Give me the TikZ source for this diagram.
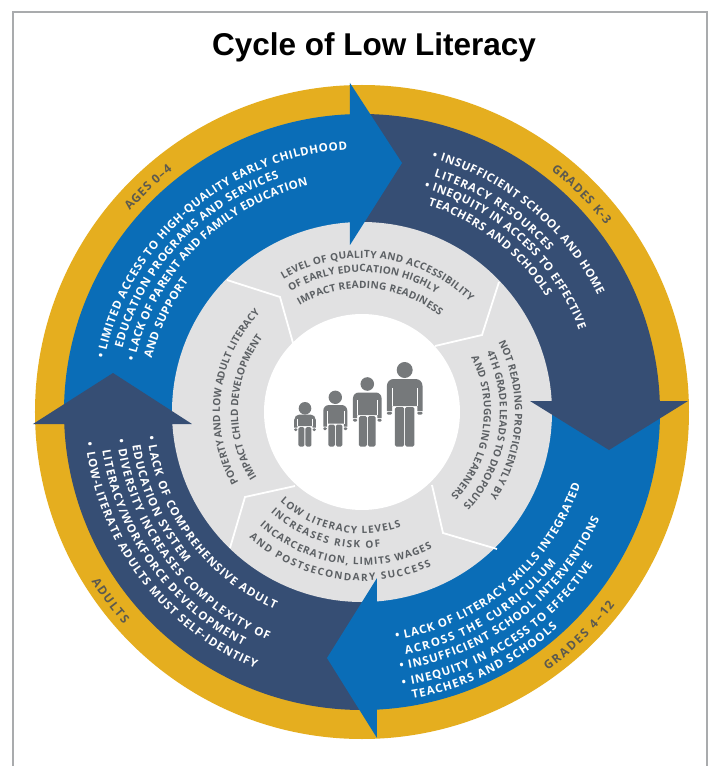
\documentclass[tikz,border=0pt]{standalone}
\usepackage{fontspec}
\usetikzlibrary{decorations.text}
\setmainfont{Liberation Sans}
\newfontfamily\labelfont{Open Sans}
\definecolor{cblue}{HTML}{0A6DB7}
\definecolor{cnavy}{HTML}{364E74}
\definecolor{cgold}{HTML}{E5AE1F}
\definecolor{cdisc}{HTML}{E1E1E2}
\definecolor{cperson}{HTML}{76797B}
\definecolor{cgtext}{HTML}{5C6064}
\definecolor{clabel}{HTML}{5D5A4E}
\definecolor{cframe}{HTML}{A9ABAD}
\newcommand\fwhite{\labelfont\bfseries\fontsize{11.5}{13}\selectfont\color{white}}
\newcommand\fgray{\labelfont\bfseries\fontsize{10.1}{12}\selectfont\color{cgtext}}
\newcommand\fgold{\labelfont\bfseries\fontsize{12}{13}\selectfont\color{clabel}}
\newcommand\arctext[5]{\path[decorate,decoration={text along path,text align={fit to path},text={|#4|#5}}] (#2:#1) arc[start angle=#2,end angle=#3,radius=#1];}
\newcommand\sector[3]{\fill[#1] (#2:298) arc[start angle=#2,end angle=#3,radius=298] -- (#3:189) arc[start angle=#3,end angle=#2,radius=189] -- cycle;}
% cx, head y, head r, half span, top, waist, hand bottom, foot, half leg
\newcommand\person[9]{%
  \pgfmathsetmacro\paw{0.29*#4}%
  \pgfmathsetmacro\pin{#4-\paw}%
  \pgfmathsetmacro\pcr{0.85*#3}%
  \pgfmathsetmacro\pwr{#7-3.4}%
  \fill[cperson] (#1,#2) circle (#3pt);
  \fill[cperson] (#1-#4,\pwr) [rounded corners=\pcr pt] -- (#1-#4,#5) -- (#1+#4,#5) [sharp corners] -- (#1+#4,\pwr) -- (#1+\pin,\pwr) -- (#1+\pin,#6) -- (#1-\pin,#6) -- (#1-\pin,\pwr) -- cycle;
  \fill[cperson,rounded corners=1.1pt] (#1-#4,\pwr+.7) rectangle (#1-\pin,#7);
  \fill[cperson,rounded corners=1.1pt] (#1+\pin,\pwr+.7) rectangle (#1+#4,#7);
  \draw[white,line width=.45pt] (#1-\pin,#5+0.35*#6-0.35*#5) -- (#1-\pin,#6) (#1+\pin,#5+0.35*#6-0.35*#5) -- (#1+\pin,#6);
  \fill[cperson,rounded corners=1.5pt] (#1-#9,#6+1) rectangle (#1-.5,#8);
  \fill[cperson,rounded corners=1.5pt] (#1+.5,#6+1) rectangle (#1+#9,#8);
}
\begin{document}
\begin{tikzpicture}[x=1pt,y=1pt,
  imgframe/.style={shift={(-362pt,412pt)},y=-1pt},
  rule/.style={draw=cframe,line width=1.3pt},
  divider/.style={draw=white,line width=1.8pt,line join=miter},
  title/.style={font=\bfseries\fontsize{31.5}{36}\selectfont,text=black,inner sep=0pt}]
\useasboundingbox (-362,412) rectangle (349,-354);
\fill[white] (-362,412) rectangle (349,-354);
% rings
\fill[cgold] (0,0) circle (327pt);
\sector{cblue}{181}{92}
\sector{cnavy}{92}{1}
\sector{cblue}{1}{-88}
\sector{cnavy}{-88}{-179}
\fill[cdisc] (0,0) circle (190pt);
\fill[white] (0,0) circle (98pt);
\begin{scope}[imgframe]
  \draw[rule] (13,766) -- (13,12) -- (707,12) -- (707,766);
  \node[title] (heading) at (374,47) {Cycle of Low Literacy};
  % dividers
  \draw[divider] (227,280) -- (280,297) -- (293,343);
  \draw[divider] (499,282) -- (482,335) -- (435,346);
  \draw[divider] (432,485) -- (443,533) -- (497,549);
  \draw[divider] (295,486) -- (245,497) -- (230,548);
  % arrow heads
  \fill[cblue] (350,83) -- (402,163) -- (350,245) -- cycle;
  \fill[cnavy] (530,401) -- (688,401) -- (609,450) -- cycle;
  \fill[cblue] (377,578) -- (377,738) -- (327,658) -- cycle;
  \fill[cnavy] (33,424) -- (192,424) -- (113,373) -- cycle;
  % people
  \person{305}{408.3}{6.3}{10.8}{414.5}{426}{431}{446.5}{6.5}
  \person{335.3}{397.3}{6.7}{12}{405}{423.5}{430}{446.5}{7}
  \person{367.3}{384}{6.8}{14.3}{392.5}{415}{421.5}{446.5}{8.3}
  \person{404.7}{370}{8}{17.8}{379}{406}{414.5}{446.5}{9.7}
\end{scope}
% ring labels
\arctext{307}{139.1}{128.1}{\fgold}{AGES 0–4}
\arctext{307}{52}{37.5}{\fgold}{GRADES K-3}
\arctext{318}{-54.3}{-37.3}{\fgold}{GRADES 4–12}
\arctext{319}{212}{221.7}{\fgold}{ADULTS}
% ages 0-4
\arctext{263}{168.3}{93.3}{\fwhite}{• LIMITED ACCESS TO HIGH-QUALITY EARLY CHILDHOOD}
\arctext{248}{165.1}{109.5}{\fwhite}{EDUCATION PROGRAMS AND SERVICES}
\arctext{233}{167.4}{103.4}{\fwhite}{• LACK OF PARENT AND FAMILY EDUCATION}
\arctext{217}{165.7}{143}{\fwhite}{AND SUPPORT}
% grades k-3
\arctext{263}{74.6}{26.3}{\fwhite}{• INSUFFICIENT SCHOOL AND HOME}
\arctext{246}{73}{40.8}{\fwhite}{LITERACY RESOURCES}
\arctext{232}{74.5}{20.7}{\fwhite}{• INEQUITY IN ACCESS TO EFFECTIVE}
\arctext{217}{72.3}{32}{\fwhite}{TEACHERS AND SCHOOLS}
% grades 4-12
\arctext{230}{-81.5}{-18.4}{\fwhite}{• LACK OF LITERACY SKILLS INTEGRATED}
\arctext{246}{-79.8}{-37.8}{\fwhite}{ACROSS THE CURRICULUM}
\arctext{260.5}{-81.6}{-24.3}{\fwhite}{• INSUFFICIENT SCHOOL INTERVENTIONS}
\arctext{277}{-81.6}{-33.5}{\fwhite}{• INEQUITY IN ACCESS TO EFFECTIVE}
\arctext{291}{-80}{-47.8}{\fwhite}{TEACHERS AND SCHOOLS}
% adults
\arctext{216}{186.5}{246.2}{\fwhite}{• LACK OF COMPREHENSIVE ADULT}
\arctext{232}{188.3}{220.4}{\fwhite}{EDUCATION SYSTEM}
\arctext{246.5}{186.4}{247.6}{\fwhite}{• DIVERSITY INCREASES COMPLEXITY OF}
\arctext{262.5}{188.4}{243}{\fwhite}{LITERACY/WORKFORCE DEVELOPMENT}
\arctext{278}{186.4}{247.4}{\fwhite}{• LOW-LITERATE ADULTS MUST SELF-IDENTIFY}
% grey top
\arctext{154}{120.7}{45.6}{\fgray}{LEVEL OF QUALITY AND ACCESSIBILITY}
\arctext{140}{120.7}{58}{\fgray}{OF EARLY EDUCATION HIGHLY}
\arctext{123.5}{120.4}{51.1}{\fgray}{IMPACT READING READINESS}
% grey right
\arctext{153}{27}{-33.5}{\fgray}{NOT READING PROFICIENTLY BY}
\arctext{138}{25.5}{-42}{\fgray}{4TH GRADE LEADS TO DROPOUTS}
\arctext{122}{26.5}{-43.4}{\fgray}{AND STRUGGLING LEARNERS}
% grey bottom
\arctext{121.5}{227.6}{288.8}{\fgray}{LOW LITERACY LEVELS}
\arctext{136}{227.8}{277.9}{\fgray}{INCREASES RISK OF}
\arctext{153}{228}{297.3}{\fgray}{INCARCERATION, LIMITS WAGES}
\arctext{169}{228.1}{294.2}{\fgray}{AND POSTSECONDARY SUCCESS}
% grey left
\arctext{142}{209.6}{136.4}{\fgray}{POVERTY AND LOW ADULT LITERACY}
\arctext{124}{212}{143.6}{\fgray}{IMPACT CHILD DEVELOPMENT}
\end{tikzpicture}
\end{document}
